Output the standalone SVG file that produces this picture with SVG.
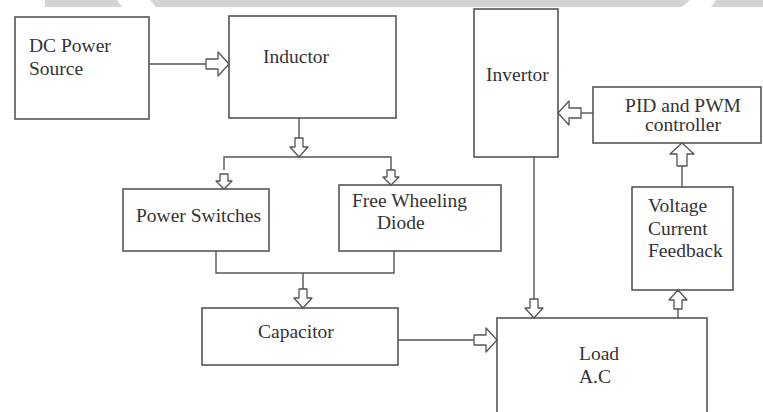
<svg xmlns="http://www.w3.org/2000/svg" xmlns:xlink="http://www.w3.org/1999/xlink" width="763" height="412" viewBox="0 0 763 412">
<style>
.box{fill:#ffffff;stroke:#555555;stroke-width:1.6}
.ln{fill:none;stroke:#555555;stroke-width:1.4}
.ar{fill:#ffffff;stroke:#555555;stroke-width:1.3;stroke-linejoin:round}
text{font-family:"Liberation Serif","Times New Roman",serif;font-size:19.5px;fill:#333333}
.c{text-anchor:middle}
</style>
<defs>
<path id="big" d="M0,0 L-11,-12 L-11,-5 L-23,-5 L-23,5 L-11,5 L-11,12 Z"/>
<path id="med" d="M0,0 L-10,-9 L-10,-4 L-19,-4 L-19,4 L-10,4 L-10,9 Z"/>
<path id="sml" d="M0,0 L-8,-8 L-8,-4 L-15,-4 L-15,4 L-8,4 L-8,8 Z"/>
</defs>
<rect width="763" height="412" fill="#ffffff"/>
<polygon points="45,0 117,0 122,7 45,7" fill="#d4d4d4"/>
<polygon points="150,0 690,0 682,7 156,7" fill="#d4d4d4"/>
<polygon points="716,0 763,0 763,7 711,7" fill="#d4d4d4"/>
<g id="dc-power-source"><rect class="box" x="15" y="17" width="134" height="102"/><text x="29" y="52">DC Power</text><text x="29" y="75">Source</text></g>
<g id="inductor"><rect class="box" x="229" y="16" width="167" height="102"/><text x="263" y="63">Inductor</text></g>
<g id="invertor"><rect class="box" x="474" y="9" width="84" height="148"/><text x="486" y="81">Invertor</text></g>
<g id="pid-pwm"><rect class="box" x="593" y="87" width="168" height="56"/><text class="c" x="683" y="112">PID and PWM</text><text class="c" x="683" y="131">controller</text></g>
<g id="power-switches"><rect class="box" x="123" y="189" width="146" height="62"/><text x="136" y="222">Power Switches</text></g>
<g id="free-wheeling-diode"><rect class="box" x="339" y="185" width="162" height="66"/><text x="352" y="207">Free Wheeling</text><text x="377" y="229">Diode</text></g>
<g id="voltage-current-feedback"><rect class="box" x="632" y="187" width="101" height="103"/><text x="648" y="212">Voltage</text><text x="648" y="235">Current</text><text x="648" y="257">Feedback</text></g>
<g id="capacitor"><rect class="box" x="202" y="308" width="196" height="57"/><text x="258" y="338">Capacitor</text></g>
<g id="load-ac"><rect class="box" x="497" y="318" width="210" height="110"/><text x="579" y="360">Load</text><text x="579" y="383">A.C</text></g>
<g id="connectors">
<path class="ln" d="M149,64 H206"/>
<use href="#big" class="ar" transform="translate(229,64)"/>
<path class="ln" d="M299,118 V138"/>
<use href="#med" class="ar" transform="translate(299,157) rotate(90)"/>
<path class="ln" d="M224,170 V157 H391 V170"/>
<use href="#sml" class="ar" transform="translate(224,189) rotate(90)"/>
<use href="#sml" class="ar" transform="translate(391,185) rotate(90)"/>
<path class="ln" d="M216,251 V273 H394 V251 M303,273 V290"/>
<use href="#med" class="ar" transform="translate(303,308) rotate(90)"/>
<path class="ln" d="M398,340 H474"/>
<use href="#big" class="ar" transform="translate(497,340)"/>
<path class="ln" d="M534,157 V300"/>
<use href="#med" class="ar" transform="translate(534,318) rotate(90)"/>
<path class="ln" d="M593,113 H581"/>
<use href="#big" class="ar" transform="translate(558,113) rotate(180)"/>
<path class="ln" d="M682,187 V166"/>
<use href="#big" class="ar" transform="translate(682,143) rotate(-90)"/>
<path class="ln" d="M678,318 V308"/>
<use href="#med" class="ar" transform="translate(678,290) rotate(-90)"/>
</g>
</svg>
